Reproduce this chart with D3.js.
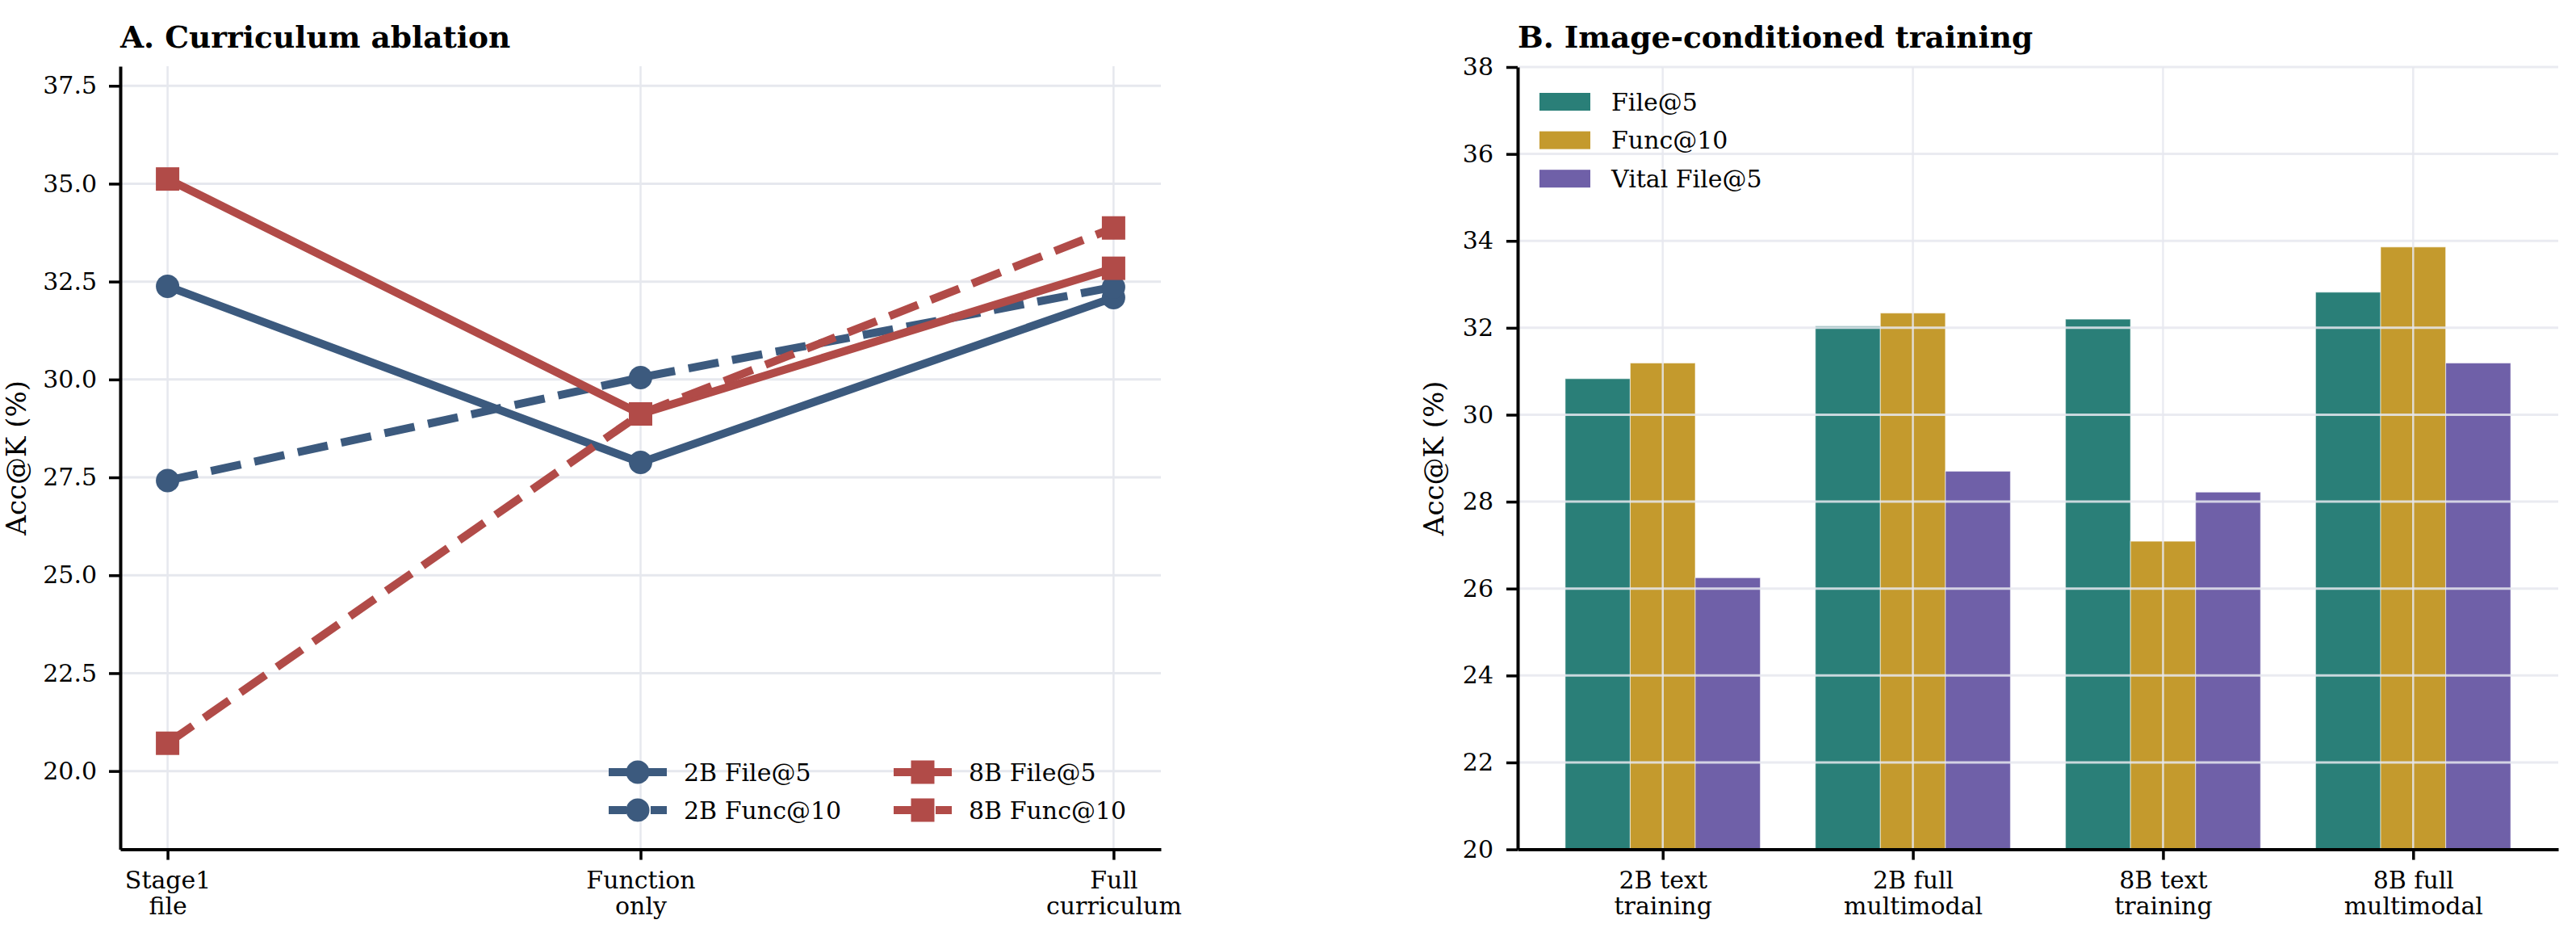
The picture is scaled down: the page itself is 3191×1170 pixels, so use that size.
<!DOCTYPE html>
<html>
<head>
<meta charset="utf-8">
<script src="https://cdn.jsdelivr.net/npm/d3@7"></script>
<style>
  html, body { margin: 0; padding: 0; background: #fff; }
  svg { display: block; font-family: "DejaVu Serif", serif; }
</style>
</head>
<body>
<div class="layout"></div>
<script>
// panel A: curriculum ablation
var stages = ["Stage1\nfile", "Function\nonly", "Full\ncurriculum"];
var a2bFile = [32.38, 27.88, 32.09];
var a2bFunc = [27.42, 30.05, 32.36];
var a8bFile = [35.12, 29.12, 32.84];
var a8bFunc = [20.71, 29.12, 33.87];
var aTicks = [20, 22.5, 25, 27.5, 30, 32.5, 35, 37.5];

// panel B: image-conditioned training
var groups = ["2B text\ntraining", "2B full\nmultimodal", "8B text\ntraining", "8B full\nmultimodal"];
var metrics = ["File@5", "Func@10", "Vital File@5"];
var bFile5 = [30.83, 32.04, 32.2, 32.82];
var bFunc10 = [31.19, 32.34, 27.09, 33.86];
var bVital5 = [26.25, 28.7, 28.22, 31.19];
var bTicks = [20, 22, 24, 26, 28, 30, 32, 34, 36, 38];

var blue = "#3c5a7e", red = "#b14b48";
var barColors = ["#2a7f78", "#c49a2d", "#6f60a8"];
var gridColor = "#e6e8ee";

var W = 3191, H = 1170;
var svg = d3.select(".layout").append("svg")
        .attr("width", W)
        .attr("height", H);

function styleAxis(g) {
        g.attr("font-family", "DejaVu Serif").attr("font-size", 30);
        g.selectAll(".tick line").attr("stroke", "#000").attr("stroke-width", 3.5);
        g.select(".domain").attr("stroke", "#000").attr("stroke-width", 4);
        g.selectAll("text").attr("fill", "#000");
}

// split "a\nb" tick labels into two tspans
function twoLineLabels(g) {
        g.selectAll(".tick text").each(function() {
                var t = d3.select(this);
                var lines = t.text().split("\n");
                t.text(null).attr("dy", null).attr("y", 0);
                lines.forEach(function(s, i) {
                        t.append("tspan").attr("x", 0).attr("y", 48 + i * 32).text(s);
                });
        });
}

// ---------- Panel A ----------
var xA = d3.scaleLinear().domain([-0.1, 2.1]).range([149, 1438]);
var yA = d3.scaleLinear().domain([18, 38]).range([1051.6, 82]);

var gA = svg.append("g");

gA.append("g").selectAll("line").data(aTicks).enter().append("line")
        .attr("x1", xA(-0.1)).attr("x2", xA(2.1))
        .attr("y1", function(d) { return yA(d); })
        .attr("y2", function(d) { return yA(d); })
        .attr("stroke", gridColor).attr("stroke-width", 3);

gA.append("g").selectAll("line").data(d3.range(stages.length)).enter().append("line")
        .attr("x1", function(d) { return xA(d); })
        .attr("x2", function(d) { return xA(d); })
        .attr("y1", yA(18)).attr("y2", yA(38))
        .attr("stroke", gridColor).attr("stroke-width", 2.5);

var seriesA = [
        {name: "2B File@5", values: a2bFile, color: blue, dash: null, marker: "circle"},
        {name: "2B Func@10", values: a2bFunc, color: blue, dash: "38,17", marker: "circle"},
        {name: "8B File@5", values: a8bFile, color: red, dash: null, marker: "square"},
        {name: "8B Func@10", values: a8bFunc, color: red, dash: "38,17", marker: "square"}
];

var lineA = d3.line()
        .x(function(d, i) { return xA(i); })
        .y(function(d) { return yA(d); });

function drawMarker(g, shape, cx, cy, color) {
        if (shape === "circle") {
                g.append("circle").attr("cx", cx).attr("cy", cy).attr("r", 14.5)
                        .attr("fill", color);
        } else {
                g.append("rect").attr("x", cx - 14.5).attr("y", cy - 14.5)
                        .attr("width", 29).attr("height", 29)
                        .attr("fill", color);
        }
}

seriesA.forEach(function(s) {
        var g = gA.append("g");
        g.append("path")
                .datum(s.values)
                .attr("d", lineA)
                .attr("fill", "none")
                .attr("stroke", s.color)
                .attr("stroke-width", 10)
                .attr("stroke-linejoin", "round")
                .attr("stroke-linecap", s.dash ? "butt" : "square")
                .attr("stroke-dasharray", s.dash);
        s.values.forEach(function(v, i) {
                drawMarker(g, s.marker, xA(i), yA(v), s.color);
        });
});

gA.append("g")
        .attr("transform", "translate(" + xA(-0.1) + ",0)")
        .call(d3.axisLeft(yA).tickValues(aTicks).tickFormat(d3.format(".1f"))
                .tickSize(14).tickSizeOuter(0).tickPadding(15))
        .call(styleAxis);

gA.append("g")
        .attr("transform", "translate(0," + yA(18) + ")")
        .call(d3.axisBottom(xA).tickValues(d3.range(stages.length))
                .tickFormat(function(i) { return stages[i]; })
                .tickSize(13).tickSizeOuter(0))
        .call(styleAxis)
        .call(twoLineLabels);

gA.append("text")
        .attr("x", 149).attr("y", 59)
        .attr("font-size", 37.5).attr("font-weight", "bold")
        .text("A. Curriculum ablation");

gA.append("text")
        .attr("transform", "translate(32," + yA(28) + ") rotate(-90)")
        .attr("text-anchor", "middle")
        .attr("font-size", 34)
        .text("Acc@K (%)");

// legend A
var legPos = [[754, 956], [754, 1003], [1107, 956], [1107, 1003]];
seriesA.forEach(function(s, i) {
        var g = gA.append("g").attr("transform", "translate(" + legPos[i][0] + "," + legPos[i][1] + ")");
        g.append("line").attr("x1", 0).attr("x2", 72).attr("y1", 0).attr("y2", 0)
                .attr("stroke", s.color).attr("stroke-width", 10)
                .attr("stroke-dasharray", s.dash ? "22,30,38" : null);
        drawMarker(g, s.marker, 36, 0, s.color);
        g.append("text").attr("x", 93).attr("y", 0).attr("dy", "0.36em")
                .attr("font-size", 30).text(s.name);
});

// ---------- Panel B ----------
var xB = d3.scalePoint().domain(groups).range([1880, 3169]).padding(0.58);
var stepB = xB.step();
var inner = d3.scaleBand().domain(metrics).range([-0.39 * stepB, 0.39 * stepB]);
var yB = d3.scaleLinear().domain([20, 38]).range([1051.6, 83]);

var gB = svg.append("g");
var barData = [bFile5, bFunc10, bVital5];

metrics.forEach(function(m, j) {
        gB.append("g").selectAll("rect").data(barData[j]).enter().append("rect")
                .attr("x", function(d, i) { return xB(groups[i]) + inner(m); })
                .attr("width", inner.bandwidth())
                .attr("y", function(d) { return yB(d); })
                .attr("height", function(d) { return yB(20) - yB(d); })
                .attr("fill", barColors[j])
                .attr("stroke", "#fff").attr("stroke-width", 1.2).attr("stroke-opacity", 0.5);
});

// grid drawn over the bars
gB.append("g").selectAll("line").data(bTicks).enter().append("line")
        .attr("x1", 1880).attr("x2", 3169)
        .attr("y1", function(d) { return yB(d); })
        .attr("y2", function(d) { return yB(d); })
        .attr("stroke", gridColor).attr("stroke-width", 3).attr("stroke-opacity", 0.85);

gB.append("g").selectAll("line").data(groups).enter().append("line")
        .attr("x1", function(d) { return xB(d); })
        .attr("x2", function(d) { return xB(d); })
        .attr("y1", yB(20)).attr("y2", yB(38))
        .attr("stroke", gridColor).attr("stroke-width", 2.5).attr("stroke-opacity", 0.85);

gB.append("g")
        .attr("transform", "translate(1880,0)")
        .call(d3.axisLeft(yB).tickValues(bTicks).tickFormat(d3.format("d"))
                .tickSize(14).tickSizeOuter(0).tickPadding(16))
        .call(styleAxis);

gB.append("g")
        .attr("transform", "translate(0," + yB(20) + ")")
        .call(d3.axisBottom(xB).tickSize(13).tickSizeOuter(0))
        .call(styleAxis)
        .call(twoLineLabels);

gB.append("text")
        .attr("x", 1880).attr("y", 59)
        .attr("font-size", 37.5).attr("font-weight", "bold")
        .text("B. Image-conditioned training");

gB.append("text")
        .attr("transform", "translate(1788," + yB(29) + ") rotate(-90)")
        .attr("text-anchor", "middle")
        .attr("font-size", 34)
        .text("Acc@K (%)");

// legend B
metrics.forEach(function(m, j) {
        var cy = 126 + j * 47.6;
        gB.append("rect").attr("x", 1907).attr("y", cy - 11).attr("width", 63).attr("height", 22)
                .attr("fill", barColors[j]);
        gB.append("text").attr("x", 1996).attr("y", cy).attr("dy", "0.36em")
                .attr("font-size", 30).text(m);
});
</script>
</body>
</html>
